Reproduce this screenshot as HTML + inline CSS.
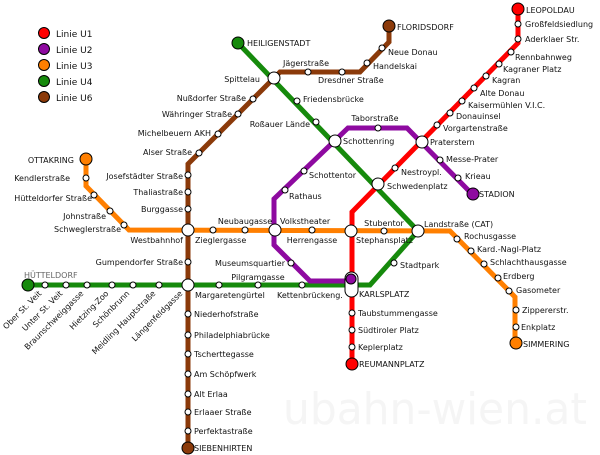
<!DOCTYPE html>
<html><head><meta charset="utf-8"><style>
html,body{margin:0;padding:0;background:#fff;}
svg{display:block;font-family:"DejaVu Sans","Liberation Sans",sans-serif;font-size:8px;}
text{fill:#111;}
.e{text-anchor:end}.m{text-anchor:middle}
</style></head><body>
<svg width="600" height="455" viewBox="0 0 600 455" xmlns="http://www.w3.org/2000/svg">
<text x="283" y="424" textLength="304" lengthAdjust="spacingAndGlyphs" style="font-size:44px;fill:#f5f5f5;font-family:'DejaVu Sans',sans-serif">ubahn-wien.at</text>
<g fill="none" stroke-width="5" stroke-linejoin="miter">
<polyline stroke="#ff7f00" points="86,159 86,186 129,230 450,231 515,297 515,344"/>
<polyline stroke="#8b3a0a" points="188,448 188,164 274,78 280,72 360,72 389,42 389,26"/>
<polyline stroke="#168a0c" points="28,285 370,285 418,231 238,43"/>
<polyline stroke="#8e0aa0" points="351,281 310,281 274,245 274,199 348,128 407,128 472,194"/>
<polyline stroke="#ff0000" points="518,9 518,43 352,212 352,364"/>
</g>
<g fill="#fff" stroke="#000" stroke-width="1">
<circle cx="518" cy="24" r="3"/><circle cx="518" cy="39" r="3"/><circle cx="511" cy="52" r="3"/><circle cx="499" cy="64" r="3"/><circle cx="486" cy="76" r="3"/><circle cx="474" cy="88" r="3"/><circle cx="462" cy="101" r="3"/><circle cx="450" cy="113" r="3"/><circle cx="437" cy="125" r="3"/><circle cx="395" cy="168" r="3"/>
<circle cx="352" cy="313" r="3"/><circle cx="352" cy="330" r="3"/><circle cx="352" cy="347" r="3"/>
<circle cx="378" cy="128" r="3"/><circle cx="440" cy="160" r="3"/><circle cx="458" cy="178" r="3"/><circle cx="304" cy="171" r="3"/><circle cx="285" cy="190" r="3"/><circle cx="291" cy="263" r="3"/>
<circle cx="382" cy="48" r="3"/><circle cx="367" cy="63" r="3"/><circle cx="342" cy="72" r="3"/><circle cx="308" cy="72" r="3"/>
<circle cx="253" cy="99" r="3"/><circle cx="238" cy="114" r="3"/><circle cx="218" cy="134" r="3"/><circle cx="199" cy="153" r="3"/>
<circle cx="188" cy="175" r="3"/><circle cx="188" cy="192" r="3"/><circle cx="188" cy="209" r="3"/><circle cx="188" cy="262" r="3"/>
<circle cx="188" cy="314" r="3"/><circle cx="188" cy="335" r="3"/><circle cx="188" cy="354" r="3"/><circle cx="188" cy="374" r="3"/><circle cx="188" cy="394" r="3"/><circle cx="188" cy="412" r="3"/><circle cx="188" cy="431" r="3"/>
<circle cx="297" cy="101" r="3"/><circle cx="316" cy="122" r="3"/><circle cx="394" cy="263" r="3"/>
<circle cx="302" cy="285" r="3"/><circle cx="258" cy="285" r="3"/><circle cx="219" cy="285" r="3"/>
<circle cx="45" cy="285" r="3"/><circle cx="66" cy="285" r="3"/><circle cx="87" cy="285" r="3"/><circle cx="112" cy="285" r="3"/><circle cx="133" cy="285" r="3"/><circle cx="159" cy="285" r="3"/>
<circle cx="86" cy="178" r="3"/><circle cx="94" cy="195" r="3"/><circle cx="110" cy="211" r="3"/><circle cx="124" cy="225" r="3"/>
<circle cx="213" cy="230" r="3"/><circle cx="245" cy="230" r="3"/><circle cx="312" cy="230" r="3"/><circle cx="384" cy="231" r="3"/>
<circle cx="457" cy="239" r="3"/><circle cx="471" cy="251" r="3"/><circle cx="484" cy="264" r="3"/><circle cx="498" cy="278" r="3"/><circle cx="509" cy="291" r="3"/><circle cx="516" cy="310" r="3"/><circle cx="516" cy="327" r="3"/>
<circle cx="274" cy="78" r="6"/><circle cx="335" cy="141" r="6"/><circle cx="422" cy="142" r="6"/><circle cx="378" cy="184" r="6"/>
<circle cx="188" cy="230" r="6"/><circle cx="275" cy="230" r="6"/><circle cx="351" cy="231" r="6"/><circle cx="418" cy="231" r="6"/><circle cx="188" cy="285" r="6"/>
<rect x="345" y="272" width="13" height="25" rx="6.5"/>
<circle cx="351" cy="279" r="5" fill="#8e0aa0"/>
<circle cx="518" cy="9" r="6" fill="#ff0000"/><circle cx="352" cy="364" r="6" fill="#ff0000"/>
<circle cx="473" cy="194" r="6" fill="#8e0aa0"/>
<circle cx="86" cy="159" r="6" fill="#ff7f00"/><circle cx="516" cy="343" r="6" fill="#ff7f00"/>
<circle cx="238" cy="43" r="6" fill="#168a0c"/><circle cx="28" cy="285" r="6" fill="#168a0c"/>
<circle cx="389" cy="26" r="6" fill="#8b3a0a"/><circle cx="188" cy="448" r="6" fill="#8b3a0a"/>
<circle cx="44" cy="33" r="5.5" fill="#ff0000"/><circle cx="44" cy="49" r="5.5" fill="#8e0aa0"/><circle cx="44" cy="65" r="5.5" fill="#ff7f00"/><circle cx="44" cy="81" r="5.5" fill="#168a0c"/><circle cx="44" cy="97" r="5.5" fill="#8b3a0a"/>
</g>
<g style="font-size:9px">
<text x="56" y="37">Linie U1</text><text x="56" y="53">Linie U2</text><text x="56" y="69">Linie U3</text><text x="56" y="85">Linie U4</text><text x="56" y="101">Linie U6</text>
</g>
<g>
<text x="526" y="13">LEOPOLDAU</text><text x="525" y="27">Großfeldsiedlung</text><text x="525" y="42">Aderklaer Str.</text>
<text x="515" y="60">Rennbahnweg</text><text x="503" y="72">Kagraner Platz</text><text x="492" y="83">Kagran</text><text x="480" y="96">Alte Donau</text><text x="468" y="108">Kaisermühlen V.I.C.</text><text x="456" y="119">Donauinsel</text><text x="443" y="131">Vorgartenstraße</text>
<text x="430" y="145">Praterstern</text><text x="446" y="162">Messe-Prater</text><text x="465" y="179">Krieau</text><text x="479" y="197">STADION</text>
<text x="401" y="175">Nestroypl.</text><text x="387" y="189">Schwedenplatz</text>
<text x="375" y="121" class="m">Taborstraße</text><text x="343" y="144">Schottenring</text><text x="309" y="178">Schottentor</text><text x="289" y="199">Rathaus</text>
<text x="397" y="30">FLORIDSDORF</text><text x="388" y="55">Neue Donau</text><text x="373" y="69">Handelskai</text><text x="318" y="83">Dresdner Straße</text><text x="306" y="66" class="m">Jägerstraße</text>
<text x="247" y="46">HEILIGENSTADT</text><text x="260" y="82" class="e">Spittelau</text><text x="303" y="102">Friedensbrücke</text><text x="310" y="127" class="e">Roßauer Lände</text>
<text x="246" y="101" class="e">Nußdorfer Straße</text><text x="232" y="117" class="e">Währinger Straße</text><text x="211" y="136" class="e">Michelbeuern AKH</text><text x="192" y="155" class="e">Alser Straße</text>
<text x="183" y="179" class="e">Josefstädter Straße</text><text x="183" y="195" class="e">Thaliastraße</text><text x="183" y="212" class="e">Burggasse</text>
<text x="74" y="163" class="e">OTTAKRING</text><text x="70" y="181" class="e">Kendlerstraße</text><text x="92" y="201" class="e">Hütteldorfer Straße</text><text x="106" y="219" class="e">Johnstraße</text><text x="121" y="232" class="e">Schweglerstraße</text>
<text x="183" y="243" class="e">Westbahnhof</text><text x="195" y="243">Zieglergasse</text><text x="245" y="224" class="m">Neubaugasse</text><text x="280" y="224">Volkstheater</text><text x="312" y="243" class="m">Herrengasse</text>
<text x="356" y="243">Stephansplatz</text><text x="384" y="226" class="m">Stubentor</text><text x="424" y="227">Landstraße (CAT)</text>
<text x="464" y="239">Rochusgasse</text><text x="477" y="252">Kard.-Nagl-Platz</text><text x="490" y="265">Schlachthausgasse</text><text x="503" y="279">Erdberg</text><text x="516" y="293">Gasometer</text>
<text x="522" y="313">Zippererstr.</text><text x="521" y="330">Enkplatz</text><text x="523" y="347">SIMMERING</text>
<text x="400" y="268">Stadtpark</text><text x="285" y="266" class="e">Museumsquartier</text><text x="183" y="265" class="e">Gumpendorfer Straße</text>
<text x="24" y="278" style="fill:#666">HÜTTELDORF</text><text x="258" y="280" class="m">Pilgramgasse</text>
<text x="195" y="298">Margaretengürtel</text><text x="277" y="298">Kettenbrückeng.</text><text x="359" y="297">KARLSPLATZ</text>
<text x="358" y="316">Taubstummengasse</text><text x="358" y="333">Südtiroler Platz</text><text x="358" y="350">Keplerplatz</text><text x="359" y="367">REUMANNPLATZ</text>
<text x="194" y="317">Niederhofstraße</text><text x="194" y="338">Philadelphiabrücke</text><text x="194" y="357">Tscherttegasse</text><text x="194" y="377">Am Schöpfwerk</text><text x="194" y="397">Alt Erlaa</text><text x="194" y="415">Erlaaer Straße</text><text x="194" y="434">Perfektastraße</text><text x="194" y="451">SIEBENHIRTEN</text>
<text class="e" transform="translate(42,294) rotate(-45)">Ober St. Veit</text>
<text class="e" transform="translate(63,294) rotate(-45)">Unter St. Veit</text>
<text class="e" transform="translate(84,294) rotate(-45)">Braunschweiggasse</text>
<text class="e" transform="translate(109,294) rotate(-45)">Hietzing-Zoo</text>
<text class="e" transform="translate(130,294) rotate(-45)">Schönbrunn</text>
<text class="e" transform="translate(156,294) rotate(-45)">Meidling Hauptstraße</text>
<text class="e" transform="translate(183,294) rotate(-45)">Längenfeldgasse</text>
</g>
</svg>
</body></html>
